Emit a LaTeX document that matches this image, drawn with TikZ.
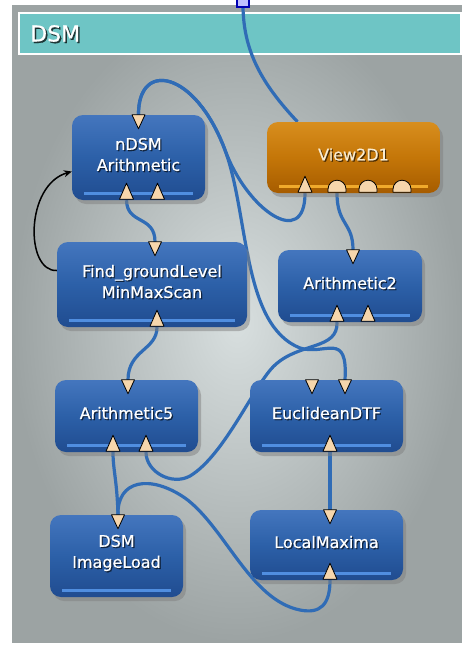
\documentclass[tikz,border=0pt]{standalone}
\usepackage{fontspec}
\setmainfont{DejaVu Sans}
\newfontfamily\modfont{DejaVu Sans}[FakeBold=0.6]
\usetikzlibrary{arrows.meta,shadows,calc}
\definecolor{panelin}{RGB}{216,223,223}
\definecolor{panelout}{RGB}{156,163,163}
\definecolor{titlebar}{RGB}{110,197,197}
\definecolor{modtop}{RGB}{68,118,190}
\definecolor{modmid}{RGB}{44,96,168}
\definecolor{modbot}{RGB}{32,76,144}
\definecolor{modhi}{RGB}{80,142,224}
\definecolor{viewtop}{RGB}{216,142,30}
\definecolor{viewmid}{RGB}{196,118,8}
\definecolor{viewbot}{RGB}{166,92,0}
\definecolor{viewhi}{RGB}{240,170,44}
\definecolor{viewtxt}{RGB}{250,236,208}
\definecolor{wire}{RGB}{48,108,182}
\definecolor{port}{RGB}{246,214,172}

\pgfdeclarelayer{bg}
\pgfdeclarelayer{wires}
\pgfsetlayers{bg,wires,main}

\tikzset{
  bluebox/.style={rounded corners=11pt, top color=modtop, bottom color=modbot, middle color=modmid,
    drop shadow={opacity=.5, shadow xshift=3pt, shadow yshift=-4pt},
    path picture={\fill[modhi, sharp corners] ([xshift=12pt,yshift=5pt]path picture bounding box.south west)
      rectangle ([xshift=-12pt,yshift=8pt]path picture bounding box.south east);}},
  orangebox/.style={rounded corners=11pt, top color=viewtop, bottom color=viewbot, middle color=viewmid,
    drop shadow={opacity=.5, shadow xshift=3pt, shadow yshift=-4pt},
    path picture={\fill[viewhi, sharp corners] ([xshift=12pt,yshift=5pt]path picture bounding box.south west)
      rectangle ([xshift=-12pt,yshift=8pt]path picture bounding box.south east);}},
  modtext/.style={font=\modfont\fontsize{16}{21}\selectfont, align=center, inner sep=0pt},
  wire/.style={draw=wire, line width=3.2pt},
  pin/.style={fill=port, draw=black, line width=0.8pt, line join=round},
  fb/.style={draw=black, line width=1.5pt, -{Stealth[length=8pt,width=7pt]}}
}

\begin{document}
\begin{tikzpicture}[x=1pt, y=-1pt]
  \useasboundingbox (0,0) rectangle (462,648);
  \begin{pgfonlayer}{bg}
    \fill[white] (0,0) rectangle (462,648);
    \shade[inner color=panelin, outer color=panelout] (12,5) rectangle (462,642);
    % title bar
    \node[fill=titlebar, draw=white, line width=2pt, anchor=north west,
      minimum width=442, minimum height=41] (title) at (18,12) {};
    \node[font=\modfont\fontsize{22}{26}\selectfont, inner sep=0pt, anchor=west, text=black, opacity=.7] at (31.5,35) {DSM};
    \node[font=\modfont\fontsize{22}{26}\selectfont, inner sep=0pt, anchor=west, text=white] (dsm) at (30,33.5) {DSM};
  \end{pgfonlayer}
  \node[draw=blue!70!black, fill=blue!25!white, line width=1.5pt, minimum width=12, minimum height=12, inner sep=0pt] (top) at (243,1) {};

  % modules
  \foreach \n/\x/\y/\w/\h/\s/\c/\lbl in {
      nd/138.5/157.5/133/85/bluebox/white/{nDSM\\Arithmetic},
      fg/152/284.5/190/85/bluebox/white/{Find\_groundLevel\\MinMaxScan},
      vw/353.5/157.5/173/71/orangebox/viewtxt/{View2D1},
      a2/350/286/144/72/bluebox/white/{Arithmetic2},
      a5/126.5/416/143/72/bluebox/white/{Arithmetic5},
      il/116.5/556/133/82/bluebox/white/{DSM\\ImageLoad},
      ed/326.5/416/153/72/bluebox/white/{EuclideanDTF},
      lm/326.5/545/153/70/bluebox/white/{LocalMaxima}}{
    \node[\s, minimum width=\w, minimum height=\h] (\n) at (\x,\y) {};
    \node[modtext, text=black, opacity=.6] at ([shift={(1.2,-1.8)}]\n.center) {\lbl};
    \node[modtext, text=\c] at ([shift={(0,-3)}]\n.center) {\lbl};
  }

  % ports
  \foreach \p/\b/\a/\d in {nd-o/nd/north/0, nd-i1/nd/south/-12, nd-i2/nd/south/19,
      fg-o/fg/north/3, fg-i/fg/south/5,
      vw-i1/vw/south/-48.5, vw-i2/vw/south/-16.5, vw-i3/vw/south/14.5, vw-i4/vw/south/48.5,
      a2-o/a2/north/3, a2-i1/a2/south/-13, a2-i2/a2/south/18,
      a5-o/a5/north/1.5, a5-i1/a5/south/-13.5, a5-i2/a5/south/19.5,
      il-o/il/north/1.5, ed-o1/ed/north/-14.5, ed-o2/ed/north/18.5, ed-i/ed/south/3.5,
      lm-o/lm/north/3.5, lm-i/lm/south/3.5}
    \coordinate (\p) at ([xshift=\d pt]\b.\a);

  \begin{pgfonlayer}{wires}
    \draw[wire] (top.south) .. controls (244,50) and (260,82) .. ([xshift=-56pt]vw.north);
    \draw[wire] (nd-o) .. controls (138,60) and (195,70) .. (225,150)
      .. controls (247,210) and (305,250) .. (vw-i1);
    \draw[wire] (nd-o) .. controls (138,60) and (195,70) .. (225,150)
      .. controls (249,215) and (242,325) .. (300,348) .. controls (325,356) and (348,330) .. (ed-o2);
    \draw[wire] (vw-i2) .. controls (337,225) and (353,222) .. (a2-o);
    \draw[wire] (a2-i1) .. controls (338,350) and (300,342) .. (275,365)
      .. controls (255,383) and (225,455) .. (190,476) .. controls (172,486) and (146,472) .. (a5-i2);
    \draw[wire] (il-o) .. controls (117,480) and (113,470) .. (a5-i1);
    \draw[wire] (il-o) .. controls (117,480) and (150,474) .. (185,498)
      .. controls (225,527) and (250,600) .. (300,610) .. controls (320,614) and (330,605) .. (lm-i);
    \draw[wire] (ed-i) -- (lm-o);
    \draw[wire] (fg-i) .. controls (157,350) and (128,350) .. (a5-o);
    \draw[wire] (nd-i1) .. controls (127,225) and (155,215) .. (fg-o);
    \draw[fb] ([yshift=14pt]fg.west) .. controls (25,272) and (25,185) .. ([yshift=-14pt]nd.west);
  \end{pgfonlayer}

  % port glyphs
  \foreach \p in {nd-o,fg-o,a2-o,a5-o,il-o,ed-o1,ed-o2,lm-o}
    \filldraw[pin] ($(\p)+(-6.5,0)$) -- ++(13,0) -- ++(-6.5,14) -- cycle;
  \foreach \p in {nd-i1,nd-i2,fg-i,vw-i1,a2-i1,a2-i2,a5-i1,a5-i2,ed-i,lm-i}
    \filldraw[pin] ($(\p)+(-7,-1)$) -- ++(14,0) -- ++(-7,-16) -- cycle;
  \foreach \p in {vw-i2,vw-i3,vw-i4}
    \filldraw[pin] ($(\p)+(-9,-1)$) -- ++(18,0) -- ++(0,-3) arc[start angle=0, end angle=-180, radius=9] -- cycle;
\end{tikzpicture}
\end{document}
